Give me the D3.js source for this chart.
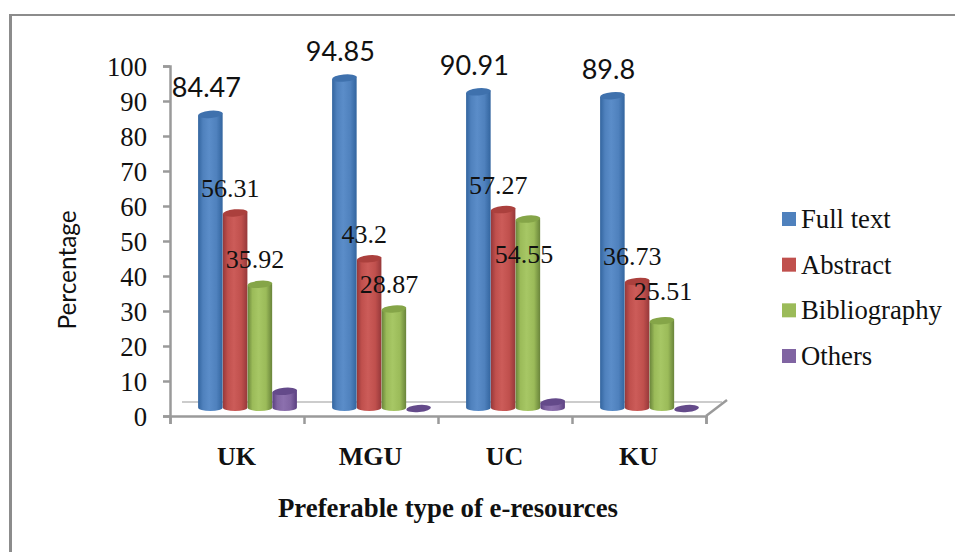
<!DOCTYPE html>
<html>
<head>
<meta charset="utf-8">
<script src="https://cdn.jsdelivr.net/npm/d3@7/dist/d3.min.js"></script>
<style>
  html, body { margin: 0; padding: 0; background: #fff; }
  svg { display: block; }
  .serif { font-family: "Liberation Serif", serif; fill: #111; }
  .sans { font-family: Lato, "Open Sans", sans-serif; fill: #111; }
</style>
</head>
<body>
<svg id="chart" width="955" height="552"></svg>
<script>
// Survey results: preferred type of e-resource at each university
const universities = ["UK", "MGU", "UC", "KU"];
const seriesNames = ["Full text", "Abstract", "Bibliography", "Others"];
const fullText = [84.47, 94.85, 90.91, 89.8];
const abstractPct = [56.31, 43.2, 57.27, 36.73];
const bibliography = [35.92, 28.87, 54.55, 25.51];
const others = [5.34, 0, 2.27, 0];
const seriesValues = [fullText, abstractPct, bibliography, others];
const yTicks = [0, 10, 20, 30, 40, 50, 60, 70, 80, 90, 100];
const palette = [
  { base: "#4f81bd", light: "#5b8dc9", dark: "#33659f", top: "#3f71ad" },
  { base: "#c0504d", light: "#cc5c59", dark: "#96383a", top: "#ab403d" },
  { base: "#9bbb59", light: "#a7c765", dark: "#69843a", top: "#85a548" },
  { base: "#8064a2", light: "#8c70ae", dark: "#5a3f80", top: "#644a8a" }
];

const svg = d3.select("#chart");
const defs = svg.append("defs");

// Outer frame: only the top and left edges fall inside the canvas
svg.append("rect").attr("x", 9).attr("y", 14).attr("width", 3).attr("height", 538).attr("fill", "#8c8c8c");
svg.append("rect").attr("x", 9).attr("y", 14).attr("width", 946).attr("height", 2).attr("fill", "#8c8c8c");

// Scales: the axis sits on the front of the floor, the columns stand a little behind it
const y = d3.scaleLinear().domain([0, 100]).range([416, 66]);
const floorShift = 6;
const yBar = v => y(v) - floorShift;
const x0 = d3.scaleBand().domain(universities).range([170, 706]);
const x1 = d3.scaleBand().domain(seriesNames).range([28, 127]);
const edgeScale = d3.scaleLinear().domain([0, universities.length]).range([170, 706]);

// Floor outline behind the columns
const floor = svg.append("g").attr("fill", "none");
floor.append("path").attr("d", "M182,402H722").attr("stroke", "#9a9a9a").attr("stroke-width", 1.2);
floor.append("path").attr("d", "M706,416L727,400").attr("stroke", "#9a9a9a").attr("stroke-width", 2.5);

// Value axis
const yAxis = svg.append("g").attr("transform", "translate(170,0)")
  .call(d3.axisLeft(y).tickValues(yTicks).tickSize(7).tickPadding(16));
yAxis.selectAll("path, line").attr("stroke", "#9a9a9a").attr("stroke-width", 2.5);
yAxis.selectAll("text").attr("class", "serif").attr("font-size", 26.7).attr("font-family", null).attr("dy", "0.36em");

// Category axis: ticks at band edges, names centred in each band
const xTicks = svg.append("g").attr("transform", "translate(0,416)")
  .call(d3.axisBottom(edgeScale).ticks(universities.length).tickSize(8).tickFormat(""));
xTicks.selectAll("path, line").attr("stroke", "#9a9a9a").attr("stroke-width", 2.5);

svg.append("g").selectAll("text").data(universities).join("text")
  .attr("class", "serif")
  .attr("x", d => x0(d) + x0.bandwidth() / 2 - 0.5)
  .attr("y", 465)
  .attr("text-anchor", "middle")
  .attr("font-size", 26).attr("font-weight", "bold")
  .text(d => d);

// Horizontal shading that gives each column its rounded look
palette.forEach((c, i) => {
  const g = defs.append("linearGradient").attr("id", "cyl" + i);
  [[0, c.dark], [0.2, c.base], [0.45, c.light], [0.75, c.base], [1, c.dark]].forEach(([o, col]) =>
    g.append("stop").attr("offset", o).attr("stop-color", col));
});

const rx = x1.bandwidth() / 2 - 0.1;
const ry = 3.6;
const tilt = 1.2;

function ellipsePath(cx, cy) {
  return `M${cx - rx},${cy + tilt}A${rx},${ry} -5 1 1 ${cx + rx},${cy - tilt}A${rx},${ry} -5 1 1 ${cx - rx},${cy + tilt}Z`;
}
function bodyPath(cx, yTop, yBase) {
  return `M${cx - rx},${yTop + tilt}L${cx - rx},${yBase}A${rx},${ry} 0 0 0 ${cx + rx},${yBase}L${cx + rx},${yTop - tilt}Z`;
}

const rows = universities.flatMap((u, ui) =>
  seriesNames.map((s, si) => ({ u, s, si, ui, v: seriesValues[si][ui] })));

const bars = svg.append("g").selectAll("g").data(rows).join("g");
bars.each(function (d) {
  const g = d3.select(this);
  const cx = x0(d.u) + x1(d.s) + x1.bandwidth() / 2;
  const yTop = yBar(d.v);
  const yBase = yBar(0) - 2.5;
  if (d.v > 0) {
    g.append("path").attr("d", bodyPath(cx, yTop, yBase)).attr("fill", `url(#cyl${d.si})`);
    g.append("path").attr("d", ellipsePath(cx, yTop)).attr("fill", palette[d.si].top);
  } else {
    g.append("path").attr("d", ellipsePath(cx, yBase + 1)).attr("fill", palette[d.si].top);
  }
});

// Value labels sit just above each column, shifted a little to the left
const labelFont = [
  { cls: "sans", size: 27, rise: 17 },
  { cls: "serif", size: 26, rise: 16 },
  { cls: "serif", size: 26, rise: 16 }
];
const labelShift = [-4, -5, -5];
const labelNudge = { "UC|Bibliography": [1, 60], "KU|Bibliography": [6, -5] };

svg.append("g").selectAll("text")
  .data(rows.filter(d => d.si < 3))
  .join("text")
  .attr("class", d => labelFont[d.si].cls)
  .attr("font-size", d => labelFont[d.si].size)
  .attr("text-anchor", "middle")
  .attr("x", d => {
    const n = labelNudge[d.u + "|" + d.s] || [0, 0];
    return x0(d.u) + x1(d.s) + x1.bandwidth() / 2 + labelShift[d.si] + n[0];
  })
  .attr("y", d => {
    const n = labelNudge[d.u + "|" + d.s] || [0, 0];
    return yBar(d.v) - labelFont[d.si].rise + n[1];
  })
  .text(d => d.v);

// Axis titles
svg.append("text").attr("class", "sans")
  .attr("transform", "translate(76,270) rotate(-90)")
  .attr("text-anchor", "middle").attr("font-size", 24.4)
  .text("Percentage");
svg.append("text").attr("class", "serif")
  .attr("x", 448).attr("y", 517).attr("text-anchor", "middle")
  .attr("font-size", 26.8).attr("font-weight", "bold")
  .text("Preferable type of e-resources");

// Legend
const legendY = d3.scalePoint().domain(seriesNames).range([219, 356]);
const legend = svg.append("g").selectAll("g").data(seriesNames).join("g")
  .attr("transform", d => `translate(782,${legendY(d)})`);
legend.append("rect").attr("y", -7).attr("width", 14).attr("height", 14)
  .attr("fill", (d, i) => palette[i].base);
legend.append("text").attr("class", "serif")
  .attr("x", 19).attr("y", 9).attr("font-size", 26.7)
  .text(d => d);
</script>
</body>
</html>
